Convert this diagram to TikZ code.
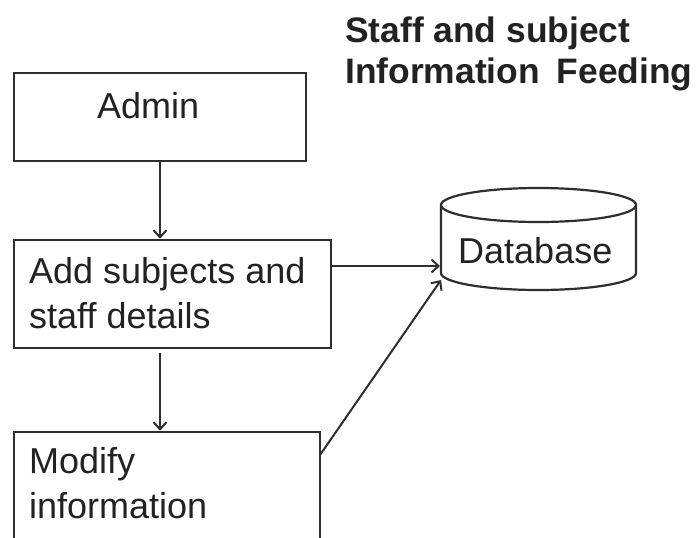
\documentclass[tikz,border=0pt]{standalone}
\usepackage{fontspec}
\setmainfont{Liberation Sans}
\usetikzlibrary{arrows.meta}
\definecolor{ink}{HTML}{2E2E2E}
\definecolor{txt}{HTML}{222222}
\tikzset{
  box/.style={draw=ink, line width=2.6pt, rectangle, inner sep=0pt},
  lbl/.style={anchor=base west, inner sep=0pt, text=txt, font=\fontsize{36}{36}\selectfont},
  ttl/.style={anchor=base west, inner sep=0pt, text=txt, font=\fontsize{35.4}{35.4}\selectfont\bfseries},
  conn/.style={draw=ink, line width=2pt, -{Straight Barb[length=7pt,width=13pt,line width=2pt]}}
}
\begin{document}
\begin{tikzpicture}[x=1pt,y=-1pt]
\useasboundingbox (0,0) rectangle (696,538);
\fill[white] (0,0) rectangle (696,538);
% title
\node[ttl] (t1) at (345,42) {Staff and subject};
\node[ttl] (t2) at (345,83) {Information\hspace{17pt}Feeding};
% boxes
\node[box, minimum width=292pt, minimum height=88pt] (admin) at (160,117) {};
\node[box, minimum width=317pt, minimum height=108pt] (add) at (172.5,294) {};
\begin{scope}
\clip (0,0) rectangle (696,538);
\node[box, minimum width=306pt, minimum height=140pt] (mod) at (167,502) {};
\end{scope}
% texts
\node[lbl] (admintxt) at (97,118) {Admin};
\node[lbl] (addtxt1) at (29,283) {Add subjects and};
\node[lbl] (addtxt2) at (29,328) {staff details};
\node[lbl] (modtxt1) at (29,473) {Modify};
\node[lbl] (modtxt2) at (29,518) {information};
% database cylinder
\node[minimum width=195pt, minimum height=102pt, inner sep=0pt] (db) at (538.5,239) {};
\draw[ink, line width=2.2pt] (538.5,205) ellipse [x radius=97.5, y radius=17];
\draw[ink, line width=2.2pt] (441,205) -- (441,273) arc[start angle=180, end angle=360, x radius=97.5, y radius=-17] -- (636,205);
\node[lbl] (dbtxt) at (458,263) {Database};
\coordinate (dbin1) at (440,266);
\coordinate (dbin2) at (441,280);
% connectors
\draw[conn] (admin.south) -- (add.north -| admin.south);
\draw[conn] ([yshift=-4pt]add.south -| admin.south) -- (mod.north -| admin.south);
\draw[conn] (add.east |- dbin1) -- (dbin1);
\draw[conn] (320,455) coordinate (modout) (modout) -- (dbin2);
\end{tikzpicture}
\end{document}
